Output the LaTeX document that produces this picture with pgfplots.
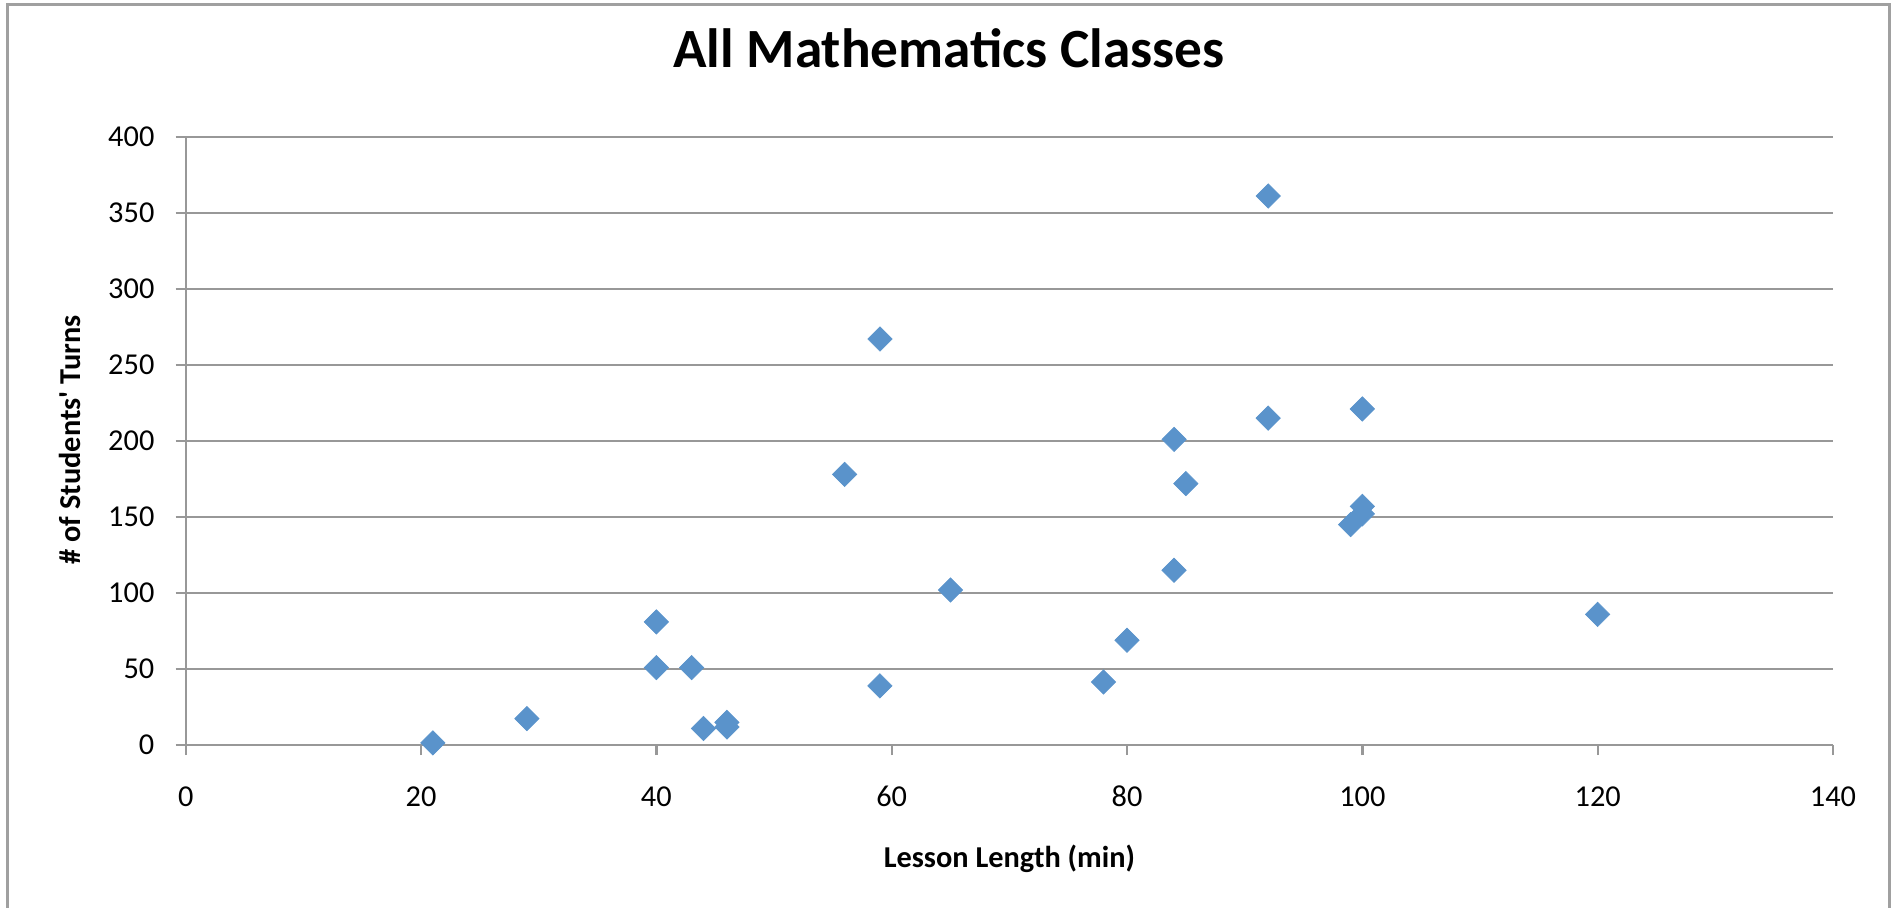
\documentclass[border=0pt]{standalone}
\usepackage{pgfplots}
\pgfplotsset{compat=1.18}
\usepackage{fontspec}
\setmainfont{Carlito}
\definecolor{ptblue}{RGB}{90,147,203}
\definecolor{gridgray}{RGB}{152,152,152}
\definecolor{framegray}{RGB}{160,160,160}
\begin{document}
\begin{tikzpicture}
\useasboundingbox (0,0) rectangle (569.1pt,272.4pt);
\draw[framegray, line width=0.9pt] (2.1pt,-3pt) -- (2.1pt,270.9pt) -- (566.7pt,270.9pt) -- (566.7pt,-3pt);
\begin{axis}[
  at={(55.71pt,48.84pt)}, anchor=south west,
  scale only axis, width=494.19pt, height=182.55pt,
  xmin=0, xmax=140, ymin=0, ymax=400,
  xtick={0,20,...,140}, ytick={0,50,...,400},
  axis x line*=bottom, axis y line*=left,
  axis line style={gridgray, line width=0.7pt, -},
  tick style={gridgray, line width=0.7pt},
  tick align=outside, major tick length=3pt,
  ymajorgrids, grid style={gridgray, line width=0.7pt},
  /pgf/number format/assume math mode=true,
  ticklabel style={font=\fontsize{9.1}{11}\selectfont, inner sep=0pt},
  xticklabel style={anchor=base, yshift=-15.5pt},
  yticklabel style={anchor=east, xshift=-6.2pt},
  title={\bfseries All Mathematics Classes},
  title style={font=\fontsize{16.6}{20}\selectfont, at={(axis description cs:0.4634,1)}, anchor=base, yshift=14.9pt, inner sep=0pt},
  xlabel={\bfseries Lesson Length (min)},
  xlabel style={font=\fontsize{9.1}{11}\selectfont, at={(axis description cs:0.5,0)}, anchor=base, yshift=-36.8pt, inner sep=0pt},
  ylabel={\bfseries \# of Students\textquotesingle\ Turns},
  ylabel style={font=\fontsize{9.1}{11}\selectfont, at={([xshift=-31.7pt]axis description cs:0,0.5016)}, anchor=base, inner sep=0pt},
  clip=false,
]
\addplot[only marks, mark=square*, mark size=2.58pt, mark options={rotate=45, fill=ptblue, draw=ptblue, line width=0.2pt}] coordinates {
(21,1.5) (29,17.5) (40,81) (40,51) (43,51) (44,11) (46,12) (46,15)
(56,178) (59,267) (59,39) (65,102) (78,41.5) (80,69) (84,201) (84,115)
(85,172) (92,215) (92,361) (99,145) (100,152) (100,157) (100,221) (120,86)
};
\end{axis}
\end{tikzpicture}
\end{document}
